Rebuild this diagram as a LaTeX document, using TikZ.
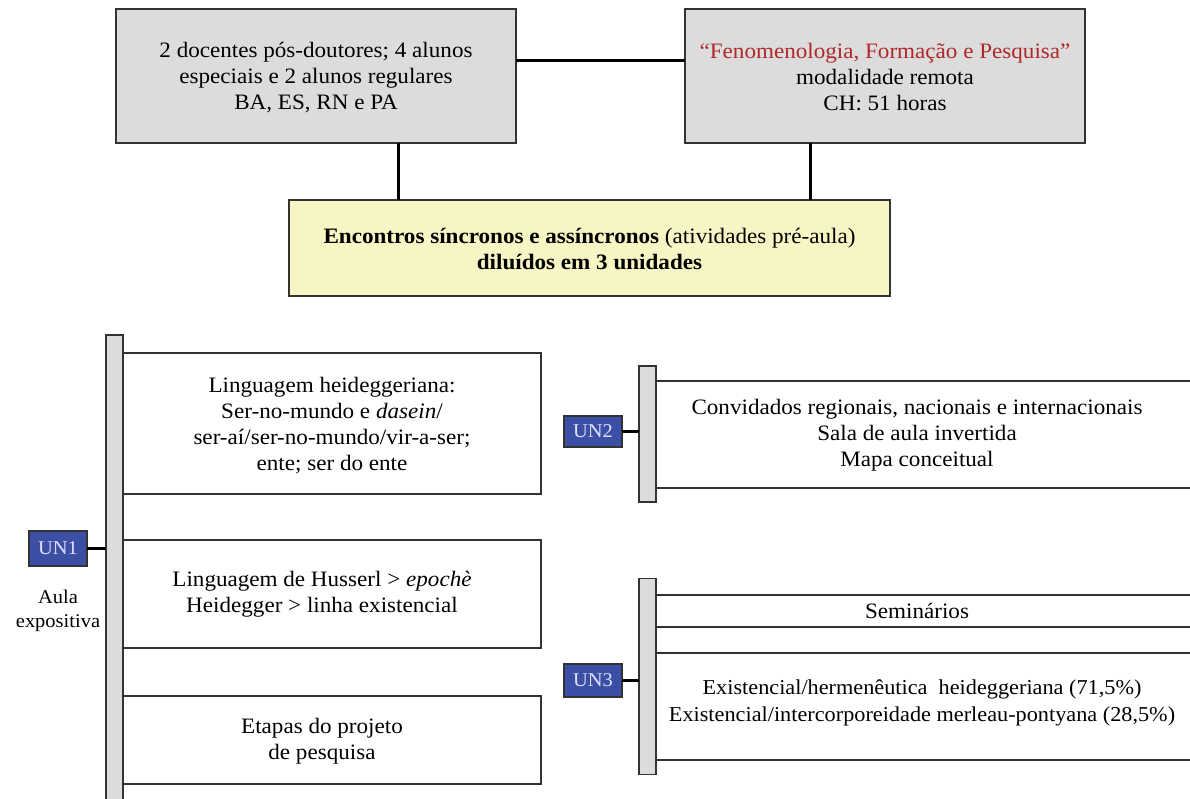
\documentclass[tikz,border=0pt]{standalone}
\usepackage{fontspec}
\setmainfont{Liberation Serif}[FakeStretch=1.05]
\definecolor{boxgray}{HTML}{DCDCDC}
\definecolor{boxyellow}{HTML}{F7F5C4}
\definecolor{unblue}{HTML}{3B50A4}
\definecolor{titlered}{HTML}{B0282A}
\definecolor{edge}{HTML}{333333}
\begin{document}
\begin{tikzpicture}[x=1pt,y=-1pt,
  every node/.style={inner sep=0pt, outer sep=0pt},
  txt/.style={align=center, font=\fontsize{22}{26}\selectfont},
  smalltxt/.style={align=center, font=\fontsize{19.5}{24}\selectfont},
  topbox/.style={draw=edge, line width=1.5pt, fill=boxgray},
  ybox/.style={draw=edge, line width=1.5pt, fill=boxyellow},
  wbox/.style={draw=edge, line width=1.4pt, fill=white},
  bar/.style={draw=edge, line width=1.4pt, fill=boxgray},
  unbox/.style={draw=edge, line width=1.4pt, fill=unblue, text=white!88!blue, font=\fontsize{19.5}{22}\selectfont},
  conn/.style={line width=3pt, black}
]
\clip (0,0) rectangle (1190,799);
\fill[white] (0,0) rectangle (1190,799);

% top boxes
\node[topbox, minimum width=400pt, minimum height=134pt] (A) at (316,76) {};
\node[txt] (Atxt) at (316,77.5) {2 docentes pós-doutores; 4 alunos\\especiais e 2 alunos regulares\\BA, ES, RN e PA};
\node[topbox, minimum width=400pt, minimum height=134pt] (B) at (885,76) {};
\node[txt] (Btxt) at (885,77.5) {\textcolor{titlered}{“Fenomenologia, Formação e Pesquisa”}\\modalidade remota\\CH: 51 horas};
\node[ybox, minimum width=601pt, minimum height=96pt] (C) at (589.5,248) {};
\node[txt] (Ctxt) at (589.5,249) {\textbf{Encontros síncronos e assíncronos} (atividades pré-aula)\\\textbf{diluídos em 3 unidades}};

\draw[conn] ([yshift=15pt]A.east) -- ([yshift=15pt]B.west);
\draw[conn] ([xshift=82pt]A.south) -- ([xshift=82pt]A.south |- C.north);
\draw[conn] ([xshift=-75pt]B.south) -- ([xshift=-75pt]B.south |- C.north);

% UN1 column
\node[wbox, minimum width=426pt, minimum height=141pt] (b11) at (328,423.5) {};
\node[txt] (t11) at (332,426) {Linguagem heideggeriana:\\Ser-no-mundo e \textit{dasein}/\\ser-aí/ser-no-mundo/vir-a-ser;\\ente; ser do ente};
\node[wbox, minimum width=426pt, minimum height=108pt] (b12) at (328,594) {};
\node[txt] (t12) at (322,594.5) {Linguagem de Husserl > \textit{epochè}\\Heidegger > linha existencial};
\node[wbox, minimum width=426pt, minimum height=88pt] (b13) at (328,740) {};
\node[txt] (t13) at (322,741) {Etapas do projeto\\de pesquisa};
\node[bar, minimum width=17pt, minimum height=480pt] (bar1) at (114.5,575) {};
\node[unbox, minimum width=58pt, minimum height=35pt] (UN1) at (58,548.5) {UN1};
\node[smalltxt] (aula) at (58,611) {Aula\\expositiva};
\draw[conn] (UN1.east) -- (UN1.east -| bar1.west);

% UN2 column
\node[wbox, minimum width=560pt, minimum height=107pt] (b21) at (928,434.5) {};
\node[txt] (t21) at (917,435) {Convidados regionais, nacionais e internacionais\\Sala de aula invertida\\Mapa conceitual};
\node[bar, minimum width=17pt, minimum height=136pt] (bar2) at (647.5,434) {};
\node[unbox, minimum width=58pt, minimum height=31pt] (UN2) at (593,431.5) {UN2};
\draw[conn] (UN2.east) -- (UN2.east -| bar2.west);

% UN3 column
\node[wbox, minimum width=560pt, minimum height=32pt] (b31) at (928,611) {};
\node[txt] (t31) at (917,611) {Seminários};
\node[wbox, minimum width=560pt, minimum height=107pt] (b32) at (928,706.5) {};
\node[txt, font=\fontsize{21.2}{27}\selectfont] (t32) at (922,703) {Existencial/hermenêutica\ \ heideggeriana (71,5\%)\\Existencial/intercorporeidade merleau-pontyana (28,5\%)};
\node[bar, minimum width=17pt, minimum height=196pt] (bar3) at (647.5,676.5) {};
\node[unbox, minimum width=58pt, minimum height=33pt] (UN3) at (593,680.5) {UN3};
\draw[conn] (UN3.east) -- (UN3.east -| bar3.west);
\end{tikzpicture}
\end{document}
